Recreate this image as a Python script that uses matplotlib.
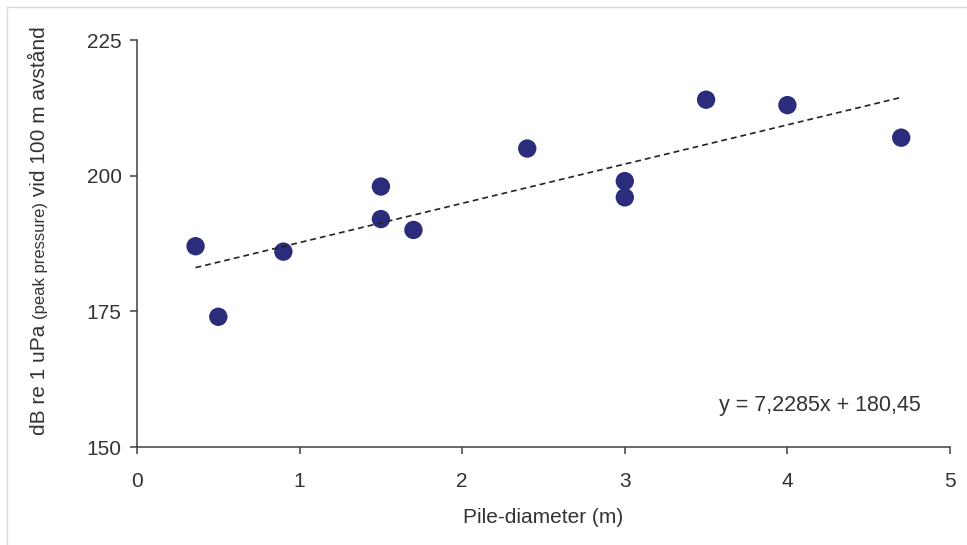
import matplotlib
matplotlib.use("Agg")
import matplotlib.pyplot as plt
from matplotlib.lines import Line2D

# pile diameter (m) vs. peak level at 100 m
diameter = [0.36, 0.5, 0.9, 1.5, 1.5, 1.7, 2.4, 3.0, 3.0, 3.5, 4.0, 4.7]
level_db = [187, 174, 186, 198, 192, 190, 205, 199, 196, 214, 213, 207]

# trend line as printed in the chart
slope = 7.2285
intercept = 180.45
trend_x = [min(diameter), max(diameter)]

x_ticks = [0, 1, 2, 3, 4, 5]
y_ticks = [150, 175, 200, 225]

plt.rcParams["font.family"] = ["Liberation Sans", "DejaVu Sans"]
txt_col = "#333333"

fig = plt.figure(figsize=(9.67, 5.45), dpi=100)
ax = fig.add_axes([0.1417, 0.1798, 0.8407, 0.7468])

ax.scatter(diameter, level_db, s=175, color="#2B2D7C", edgecolors="none", zorder=2)
trend_y = [slope * v + intercept for v in trend_x]
ax.plot(trend_x, trend_y, color="#222222", lw=1.2, linestyle=(0, (3.5, 2.4)), zorder=3)

ax.set_xlim(0, 5)
ax.set_ylim(150, 225)
ax.set_xticks(x_ticks)
ax.set_yticks(y_ticks)
for s in ["top", "right"]:
    ax.spines[s].set_visible(False)
for s in ["left", "bottom"]:
    ax.spines[s].set_linewidth(1.1)
    ax.spines[s].set_color("#404040")
ax.tick_params(axis="both", direction="out", length=5, width=1.1, color="#404040",
               labelsize=15, labelcolor=txt_col)
ax.tick_params(axis="y", pad=6)
ax.tick_params(axis="x", pad=13)

ax.set_xlabel("Pile-diameter (m)", fontsize=15, color=txt_col, labelpad=12)

ax.text(0.716, 0.103, "y = 7,2285x + 180,45", transform=ax.transAxes,
        ha="left", va="center", fontsize=15.5, color=txt_col)

# y label with a smaller middle part, stacked along the rotated baseline
fig.canvas.draw()
renderer = fig.canvas.get_renderer()
pieces = [("dB re 1 uPa ", 15), ("(peak pressure)", 12), (" vid 100 m avstånd", 15)]
ypos = 0.202
for s, fs in pieces:
    t = fig.text(0.0465, ypos, s, rotation=90, rotation_mode="anchor",
                 ha="left", va="baseline", fontsize=fs, color=txt_col)
    bb = t.get_window_extent(renderer)
    ypos += bb.height / fig.bbox.height

# light frame line at left and top of the picture
fig.add_artist(Line2D([7 / 967, 7 / 967], [0, 1 - 7 / 545], transform=fig.transFigure,
                      color="#d9d9d9", lw=1))
fig.add_artist(Line2D([7 / 967, 1], [1 - 7 / 545, 1 - 7 / 545], transform=fig.transFigure,
                      color="#d9d9d9", lw=1))

fig.savefig("out.png", dpi=100)
